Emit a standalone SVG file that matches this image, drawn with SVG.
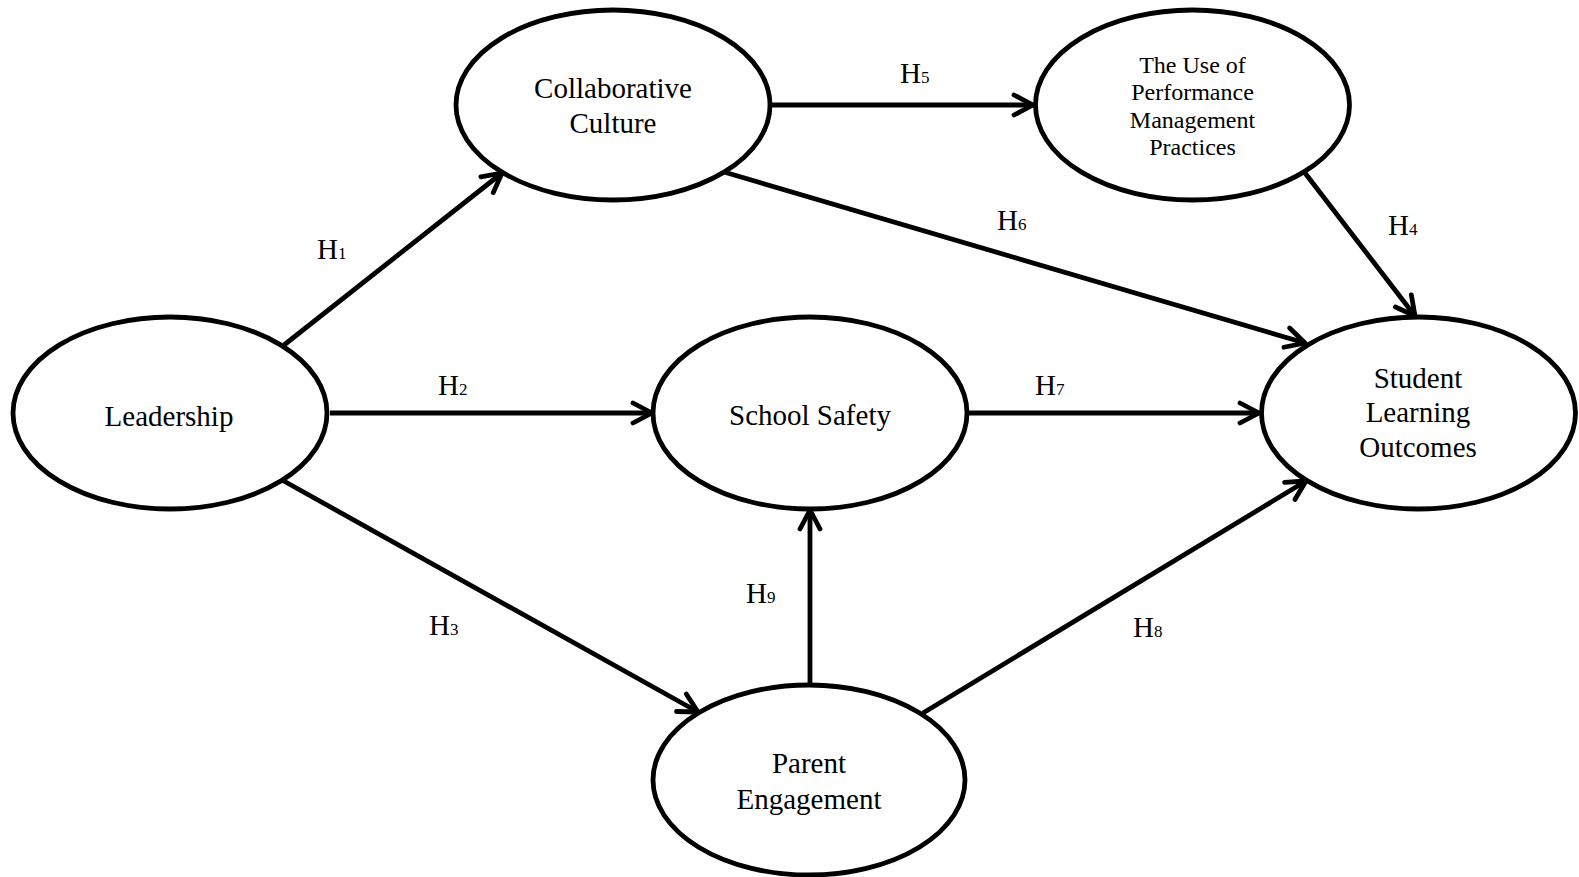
<svg xmlns="http://www.w3.org/2000/svg" width="1579" height="877" viewBox="0 0 1579 877">
<style>
.node{fill:#fff;stroke:#000;stroke-width:4.8}
.t{font-family:"Liberation Serif","Times New Roman",serif;font-size:29px;fill:#000;text-anchor:middle}
.ts{font-family:"Liberation Serif","Times New Roman",serif;font-size:24px;fill:#000;text-anchor:middle}
.lbl{font-family:"Liberation Serif","Times New Roman",serif;font-size:29px;fill:#000}
.sub{font-size:17px}
.edge{stroke:#000;stroke-width:4.8;fill:none;marker-end:url(#arr)}
</style>
<defs>
<marker id="arr" markerUnits="userSpaceOnUse" viewBox="-24 -14 28 28" refX="0" refY="0" markerWidth="28" markerHeight="28" orient="auto">
<path d="M-19,-10 L0,0 L-19,10" fill="none" stroke="#000" stroke-width="4.8" stroke-linecap="round" stroke-linejoin="round"/>
</marker>
</defs>
<rect width="1579" height="877" fill="#fff"/>
<g id="connectors">
<path class="edge" d="M284 345 L502 173"/>
<path class="edge" d="M330 413 L652 413"/>
<path class="edge" d="M772 105 L1033 105"/>
<path class="edge" d="M724 172 L1305 343"/>
<path class="edge" d="M1305 173 L1415 316"/>
<path class="edge" d="M969 413 L1259 413"/>
<path class="edge" d="M282 480 L698 712"/>
<path class="edge" d="M810 685 L810 510"/>
<path class="edge" d="M923 713 L1306 481"/>
</g>
<g id="labels">
<text class="lbl" x="317" y="259">H<tspan class="sub">1</tspan></text>
<text class="lbl" x="438" y="395">H<tspan class="sub">2</tspan></text>
<text class="lbl" x="429" y="635">H<tspan class="sub">3</tspan></text>
<text class="lbl" x="1388" y="235">H<tspan class="sub">4</tspan></text>
<text class="lbl" x="900" y="83">H<tspan class="sub">5</tspan></text>
<text class="lbl" x="997" y="230">H<tspan class="sub">6</tspan></text>
<text class="lbl" x="1035" y="395">H<tspan class="sub">7</tspan></text>
<text class="lbl" x="1133" y="637">H<tspan class="sub">8</tspan></text>
<text class="lbl" x="746" y="603">H<tspan class="sub">9</tspan></text>
</g>
<g id="leadership">
<ellipse class="node" cx="170" cy="413" rx="157" ry="96"/>
<text class="t" x="169" y="426">Leadership</text>
</g>
<g id="collaborative-culture">
<ellipse class="node" cx="613" cy="105" rx="157" ry="95"/>
<text class="t" x="613" y="98">Collaborative</text>
<text class="t" x="613" y="133">Culture</text>
</g>
<g id="performance-management">
<ellipse class="node" cx="1192.5" cy="105" rx="157" ry="95"/>
<text class="ts" x="1192.5" y="73">The Use of</text>
<text class="ts" x="1192.5" y="100">Performance</text>
<text class="ts" x="1192.5" y="128">Management</text>
<text class="ts" x="1192.5" y="155">Practices</text>
</g>
<g id="school-safety">
<ellipse class="node" cx="810" cy="413" rx="157" ry="96"/>
<text class="t" x="810" y="425">School Safety</text>
</g>
<g id="student-learning-outcomes">
<ellipse class="node" cx="1418.5" cy="413" rx="157" ry="96"/>
<text class="t" x="1418" y="388">Student</text>
<text class="t" x="1418" y="422">Learning</text>
<text class="t" x="1418" y="457">Outcomes</text>
</g>
<g id="parent-engagement">
<ellipse class="node" cx="809" cy="780" rx="156" ry="95"/>
<text class="t" x="809" y="773">Parent</text>
<text class="t" x="809" y="809">Engagement</text>
</g>
</svg>
